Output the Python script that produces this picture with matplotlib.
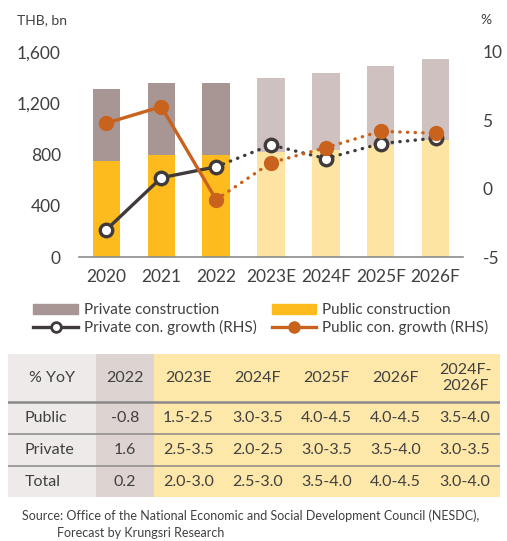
import numpy as np
import matplotlib.pyplot as plt
from matplotlib.lines import Line2D
from matplotlib.patches import Patch, Rectangle

plt.rcParams['font.family'] = ['Lato', 'DejaVu Sans']
plt.rcParams['axes.unicode_minus'] = False

# Data
years = ["2020", "2021", "2022", "2023E", "2024F", "2025F", "2026F"]
public_con = [753, 800, 798, 818, 839, 872, 911]
private_con = [559, 559, 561, 580, 595, 619, 637]
private_growth = [-3.0, 0.8, 1.6, 3.2, 2.2, 3.3, 3.7]
public_growth = [4.8, 6.0, -0.8, 1.9, 3.0, 4.2, 4.05]
n_actual = 3

tbl_cols = ["% YoY", "2022", "2023E", "2024F", "2025F", "2026F", "2024F-\n2026F"]
tbl_rows = ["Public", "Private", "Total"]
tbl_vals = [["-0.8", "1.5-2.5", "3.0-3.5", "4.0-4.5", "4.0-4.5", "3.5-4.0"],
            ["1.6", "2.5-3.5", "2.0-2.5", "3.0-3.5", "3.5-4.0", "3.0-3.5"],
            ["0.2", "2.0-3.0", "2.5-3.0", "3.5-4.0", "4.0-4.5", "3.0-4.0"]]

# Colours
c_priv, c_priv_f = "#A89694", "#CEC1BF"
c_pub, c_pub_f = "#FDBB1E", "#FDE4A2"
c_pline = "#403A3A"
c_oline = "#C8621C"
txt = "#404040"

W, H = 507, 541
fig = plt.figure(figsize=(W / 100, H / 100), dpi=100)
ax = fig.add_axes([79 / W, 1 - 257 / H, 384 / W, 205 / H])

x = np.arange(len(years))
pub_cols = [c_pub if i < n_actual else c_pub_f for i in x]
priv_cols = [c_priv if i < n_actual else c_priv_f for i in x]
ax.bar(x, public_con, width=0.5, color=pub_cols, zorder=2)
ax.bar(x, private_con, width=0.5, bottom=public_con, color=priv_cols, zorder=2)
ax.set_xlim(-0.5, len(years) - 0.5)
ax.set_ylim(0, 1600)
ax.set_yticks([0, 400, 800, 1200, 1600])
ax.set_yticklabels(["0", "400", "800", "1,200", "1,600"])
ax.set_xticks(x)
ax.set_xticklabels(years)
for s in ["top", "left", "right"]:
    ax.spines[s].set_visible(False)
ax.spines["bottom"].set_color("#8C8C8C")
ax.spines["bottom"].set_linewidth(1.2)
ax.tick_params(axis="both", length=0, labelsize=12.5, colors=txt)
ax.tick_params(axis="y", pad=13)
ax.tick_params(axis="x", pad=9)

ax2 = ax.twinx()
ax2.set_ylim(-5, 10)
ax2.set_yticks([-5, 0, 5, 10])
for s in ["top", "left", "right", "bottom"]:
    ax2.spines[s].set_visible(False)
ax2.tick_params(axis="y", length=0, labelsize=12.5, colors=txt, pad=14)

na = n_actual
# private growth
ax2.plot(x[na - 1:], private_growth[na - 1:], color=c_pline, lw=2.4,
         linestyle=(0, (0.1, 2.2)), dash_capstyle="round", zorder=3)
ax2.plot(x[:na], private_growth[:na], color=c_pline, lw=2.4, zorder=3)
ax2.plot(x, private_growth, linestyle="none", marker="o", ms=9,
         mfc="white", mec=c_pline, mew=2.4, zorder=4)
# public growth
ax2.plot(x[na - 1:], public_growth[na - 1:], color=c_oline, lw=2.4,
         linestyle=(0, (0.1, 2.2)), dash_capstyle="round", zorder=5)
ax2.plot(x[:na], public_growth[:na], color=c_oline, lw=2.4, zorder=5)
ax2.plot(x, public_growth, linestyle="none", marker="o", ms=10,
         color=c_oline, zorder=6)

fig.text(17 / W, 1 - 20 / H, "THB, bn", fontsize=10, color=txt, va="center")
fig.text(486 / W, 1 - 20 / H, "%", fontsize=10, color=txt, va="center", ha="center")

handles = [Patch(color=c_priv),
           Line2D([], [], color=c_pline, lw=2.4, marker="o", ms=7, mfc="white", mec=c_pline, mew=2),
           Patch(color=c_pub),
           Line2D([], [], color=c_oline, lw=2.4, marker="o", ms=8)]
labels = ["Private construction", "Private con. growth (RHS)",
          "Public construction", "Public con. growth (RHS)"]
leg = fig.legend(handles, labels, ncol=2, loc="center", bbox_to_anchor=(0.515, 1 - 319 / H),
                 frameon=False, fontsize=11, handlelength=2.9, handleheight=0.55,
                 handletextpad=0.4, columnspacing=1.0, labelspacing=0.15)
for t in leg.get_texts():
    t.set_color(txt)

# Table
tax = fig.add_axes([8 / W, 1 - 497 / H, 492 / W, 143 / H])
tax.set_axis_off()
col_w = [88, 58, 69, 69, 69, 69, 70]
row_h = [48, 32, 32, 31]
edges = np.concatenate([[0], np.cumsum(col_w)])
redges = np.concatenate([[0], np.cumsum(row_h)])
tax.set_xlim(0, edges[-1])
tax.set_ylim(redges[-1], 0)
bg = ["#EEEAE9", "#DDD4D2"] + ["#FDE7A9"] * 5
for j in range(len(col_w)):
    tax.add_patch(Rectangle((edges[j], 0), col_w[j], redges[-1], color=bg[j], lw=0))
for r in redges[1:-1]:
    tax.axhline(r, color="#8A8A8A", lw=1.8 if r == redges[1] else 1.1)
for j, c in enumerate(tbl_cols):
    tax.text((edges[j] + edges[j + 1]) / 2, row_h[0] / 2, c, ha="center", va="center",
             fontsize=11.5, color=txt, linespacing=1.1)
for i, rname in enumerate(tbl_rows):
    yc = (redges[i + 1] + redges[i + 2]) / 2
    tax.text(17, yc, rname, ha="left", va="center", fontsize=11.5, color=txt)
    for j, v in enumerate(tbl_vals[i]):
        tax.text((edges[j + 1] + edges[j + 2]) / 2, yc, v, ha="center", va="center",
                 fontsize=11.5, color=txt)

fig.text(22 / W, 1 - 516 / H,
         "Source: Office of the National Economic and Social Development Council (NESDC),",
         fontsize=9, color=txt, va="center")
fig.text(57 / W, 1 - 533 / H, "Forecast by Krungsri Research",
         fontsize=9, color=txt, va="center")

fig.savefig("out.png", dpi=100)
